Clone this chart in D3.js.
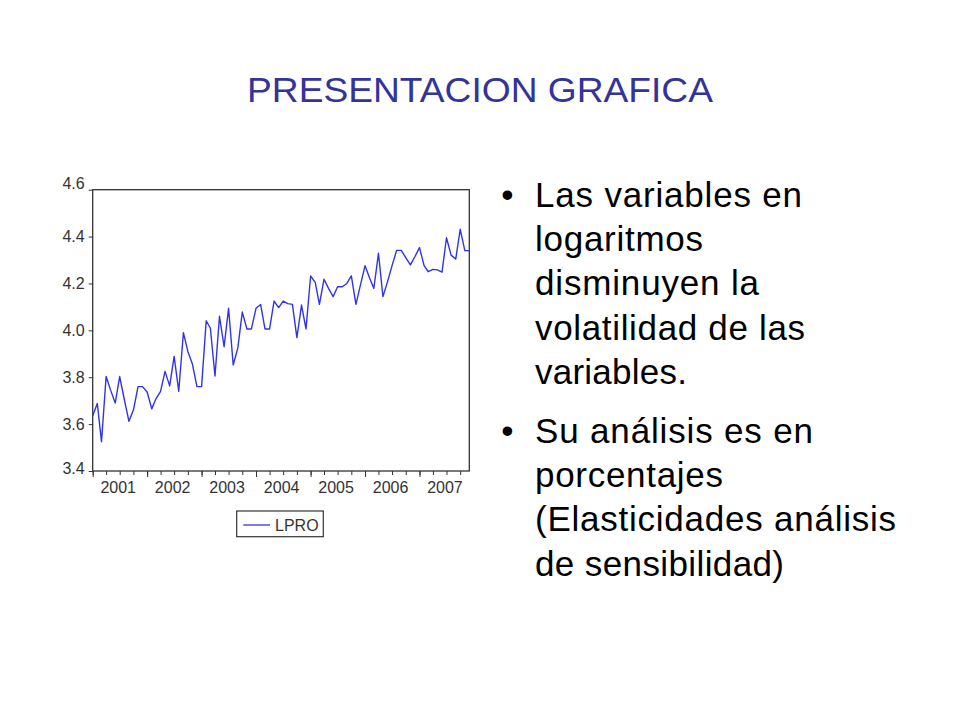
<!DOCTYPE html>
<html>
<head>
<meta charset="utf-8">
<script src="https://cdn.jsdelivr.net/npm/d3@7"></script>
<style>
  body { margin: 0; background: #fff; }
  text { font-family: "Liberation Sans", Arial, sans-serif; }
</style>
</head>
<body>
<svg id="chart" width="960" height="720"></svg>
<script>
// DATA
const startMonth = new Date(2001, 0, 1);
const lpro = [
    3.636, 3.688, 3.525, 3.803, 3.745, 3.690, 3.803, 3.705, 3.612, 3.660, 3.760, 3.760,
    3.737, 3.665, 3.708, 3.740, 3.825, 3.763, 3.889, 3.740, 3.990, 3.910, 3.855, 3.760,
    3.760, 4.041, 4.009, 3.805, 4.060, 3.930, 4.094, 3.852, 3.925, 4.078, 4.006, 4.006,
    4.094, 4.110, 4.006, 4.006, 4.125, 4.097, 4.125, 4.114, 4.111, 3.969, 4.108, 4.006,
    4.232, 4.205, 4.111, 4.218, 4.179, 4.144, 4.186, 4.186, 4.200, 4.232, 4.111, 4.193,
    4.276, 4.222, 4.179, 4.329, 4.144, 4.208, 4.276, 4.341, 4.341, 4.310, 4.279, 4.314,
    4.353, 4.276, 4.250, 4.260, 4.258, 4.248, 4.395, 4.321, 4.304, 4.431, 4.340, 4.340
];
const yTicks = [3.4, 3.6, 3.8, 4.0, 4.2, 4.4, 4.6];
const years = [2001, 2002, 2003, 2004, 2005, 2006, 2007];
const seriesName = "LPRO";

const titleText = "PRESENTACION GRAFICA";
const bullets = [
    [["Las variables en", 267], ["logaritmos", 168], ["disminuyen la", 224],
     ["volatilidad de las", 270], ["variables.", 152]],
    [["Su análisis es en", 278], ["porcentajes", 188],
     ["(Elasticidades análisis", 361], ["de sensibilidad)", 249]]
];

const svg = d3.select("#chart");
const plot = { left: 92.7, right: 469.3, top: 189.7, bottom: 471 };

const data = lpro.map((v, i) => ({ date: d3.timeMonth.offset(startMonth, i), value: v }));

// title
svg.append("text")
    .attr("x", 480)
    .attr("y", 101.7)
    .attr("text-anchor", "middle")
    .attr("font-size", 35)
    .attr("fill", "#333399")
    .attr("textLength", 466)
    .attr("lengthAdjust", "spacingAndGlyphs")
    .text(titleText);

// scales
const x = d3.scaleTime()
    .domain([data[0].date, data[data.length - 1].date])
    .range([plot.left, plot.right]);

const y = d3.scaleLinear()
    .domain([3.4, 4.6])
    .range([plot.bottom, plot.top]);

// y axis
const yAxis = svg.append("g")
    .attr("transform", `translate(${plot.left},0)`)
    .call(d3.axisLeft(y).tickValues(yTicks).tickFormat(d3.format(".1f")).tickSize(4).tickPadding(4));
yAxis.select(".domain").remove();
yAxis.selectAll("line").attr("stroke", "#333");
yAxis.selectAll("text")
    .attr("font-size", 16)
    .attr("fill", "#333")
    .style("font-family", "'Liberation Sans', Arial, sans-serif");
// end labels are pulled inside the axis range, as in the original
yAxis.selectAll(".tick")
    .filter(d => d === 4.6)
    .select("text").attr("y", -6);
yAxis.selectAll(".tick")
    .filter(d => d === 3.4)
    .select("text").attr("y", -3);

// x axis: quarterly minor ticks, yearly major ticks
const xMinor = svg.append("g")
    .attr("transform", `translate(0,${plot.bottom})`)
    .call(d3.axisBottom(x).ticks(d3.timeMonth.every(3)).tickSize(4).tickFormat(""));
xMinor.select(".domain").remove();
xMinor.selectAll("line").attr("stroke", "#333");

const xMajor = svg.append("g")
    .attr("transform", `translate(0,${plot.bottom})`)
    .call(d3.axisBottom(x).ticks(d3.timeYear.every(1)).tickSize(6).tickFormat(""));
xMajor.select(".domain").remove();
xMajor.selectAll("line").attr("stroke", "#333");

svg.append("g").selectAll("text").data(years)
    .join("text")
    .attr("x", d => x(new Date(d, 6, 1)) - 1.5)
    .attr("y", 493.3)
    .attr("text-anchor", "middle")
    .attr("font-size", 16)
    .attr("fill", "#333")
    .text(d => d);

// frame
svg.append("rect")
    .attr("x", plot.left)
    .attr("y", plot.top)
    .attr("width", plot.right - plot.left)
    .attr("height", plot.bottom - plot.top)
    .attr("fill", "none")
    .attr("stroke", "#333")
    .attr("stroke-width", 1.3);

// line
svg.append("path")
    .datum(data)
    .attr("fill", "none")
    .attr("stroke", "#3333e6")
    .attr("stroke-width", 1.4)
    .attr("stroke-linejoin", "round")
    .attr("d", d3.line().x(d => x(d.date)).y(d => y(d.value)));

// legend
const legend = svg.append("g");
legend.append("rect")
    .attr("x", 236.7)
    .attr("y", 511)
    .attr("width", 86.6)
    .attr("height", 25.7)
    .attr("fill", "#fff")
    .attr("stroke", "#333")
    .attr("stroke-width", 1.2);
legend.append("line")
    .attr("x1", 243.3)
    .attr("x2", 270)
    .attr("y1", 525)
    .attr("y2", 525)
    .attr("stroke", "#3333e6")
    .attr("stroke-width", 1.3);
legend.append("text")
    .attr("x", 275)
    .attr("y", 531)
    .attr("font-size", 16)
    .attr("fill", "#333")
    .text(seriesName);

// bullet text
const bulletTop = [206.7, 442.7];
const lineStep = 44.3;
bullets.forEach((lines, b) => {
    svg.append("text")
        .attr("x", 507.5)
        .attr("y", bulletTop[b])
        .attr("text-anchor", "middle")
        .attr("font-size", 35)
        .attr("fill", "#000")
        .text("•");
    lines.forEach(([txt, w], i) => {
        svg.append("text")
            .attr("x", 535)
            .attr("y", bulletTop[b] + i * lineStep)
            .attr("font-size", 35)
            .attr("fill", "#000")
            .attr("textLength", w)
            .attr("lengthAdjust", "spacing")
            .text(txt);
    });
});
</script>
</body>
</html>
